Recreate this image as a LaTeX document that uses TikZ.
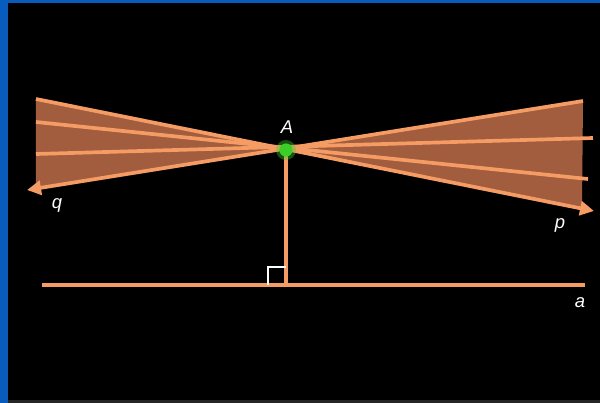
\documentclass[tikz,border=0pt]{standalone}
\usepackage{fontspec}
\setmainfont{Liberation Sans}
\usetikzlibrary{arrows.meta}
\definecolor{RayOrange}{RGB}{245,155,100}
\definecolor{FanBrown}{RGB}{162,92,62}
\definecolor{FrameBlue}{RGB}{8,92,190}
\definecolor{DotGreen}{RGB}{60,205,40}

\begin{document}
\begin{tikzpicture}[x=0.02cm, y=-0.02cm,
ray/.style={draw=RayOrange, line width=2.1pt},
tipray/.style={ray, -{Triangle[length=8pt, width=8pt]}},
lbl/.style={text=white, font=\itshape\fontsize{10.5}{12}\selectfont},
rightang/.style={draw=white, line width=0.6pt}]
\useasboundingbox (0,0) rectangle (600,403);
\fill[FrameBlue] (0,0) rectangle (600,403);
\fill[black!85!white] (8,399) rectangle (600,403);
\fill[black] (8,3) rectangle (600,400);
% points of the two pencils of lines
\coordinate (A) at (286,150);
\coordinate (l1) at (36,99);  \coordinate (l2) at (36,122);
\coordinate (l3) at (36,154); \coordinate (q) at (27,190);
\coordinate (r1) at (583,101); \coordinate (r2) at (593,138);
\coordinate (r3) at (588,179); \coordinate (p) at (594,211);
\coordinate (qf) at (36,189); \coordinate (pf) at (582,209);
\fill[FanBrown] (A) -- (l1) -- (qf) -- cycle;
\fill[FanBrown] (A) -- (r1) -- (pf) -- cycle;
\draw[ray] (l2) -- (r3); \draw[ray] (l3) -- (r2);
\draw[tipray] (l1) -- (p); \draw[tipray] (r1) -- (q);
% line a and the perpendicular
\coordinate (a1) at (42,285); \coordinate (a2) at (585,285);
\coordinate (F) at (286,285);
\draw[ray] (a1) -- (a2);
\draw[ray] (A) -- (F);
\draw[rightang] (F) ++(-18,0) |- ++(18,-18);
\fill[DotGreen, opacity=0.4] (A) circle (10);
\node[circle, fill=DotGreen, inner sep=0pt, minimum size=7.5pt] (dot) at (A) {};
\node[lbl] (labA) at (287,127) {A};
\node[lbl] (labq) at (57,205) {q};
\node[lbl] (labp) at (560,225) {p};
\node[lbl] (laba) at (580,303) {a};
\end{tikzpicture}
\end{document}
